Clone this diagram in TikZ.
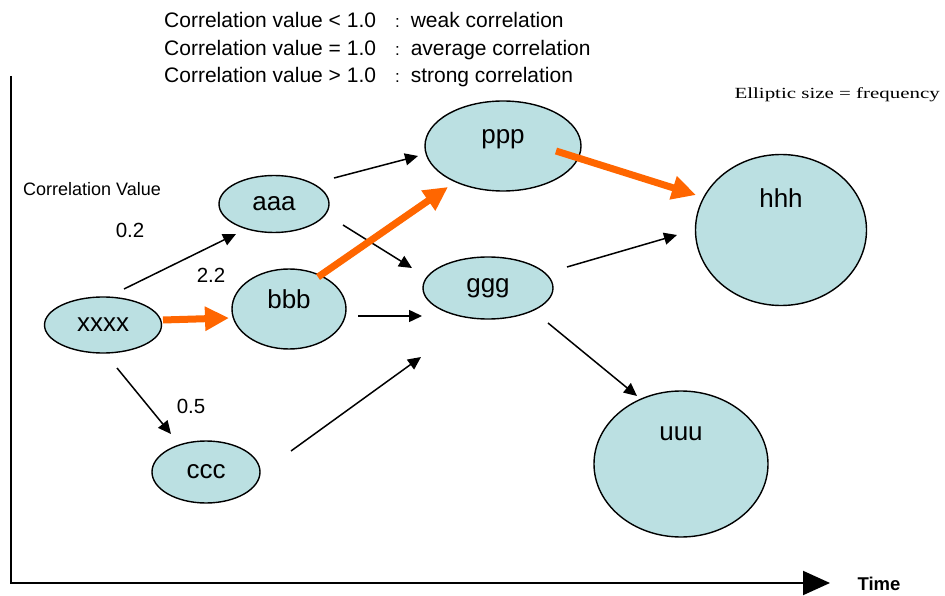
\documentclass[tikz,border=0pt]{standalone}
\usepackage{fontspec}
\setmainfont{Liberation Sans}
\newfontfamily\minchofont[FakeStretch=1.35]{Liberation Serif}
\usetikzlibrary{arrows.meta,shapes.geometric,calc}
\definecolor{blobfill}{RGB}{187,224,226}
\definecolor{hotorange}{RGB}{255,102,0}

\begin{document}
\begin{tikzpicture}[x=1pt,y=-1pt,
  blobtext/.style={font=\fontsize{26}{30}\selectfont},
  blob/.style={ellipse, draw, line width=1.4pt, fill=blobfill, inner sep=0pt, blobtext},
  link/.style={line width=1.5pt, -{Triangle[length=13pt,width=12pt]}},
  hot/.style={line width=7pt, hotorange, -{Triangle[length=24pt,width=23pt]}},
  axis/.style={line width=2pt, line join=miter, -{Triangle[length=27pt,width=24pt]}},
  num/.style={inner sep=0pt, font=\fontsize{20.5}{24}\selectfont}]

\useasboundingbox (0,0) rectangle (945,596);

% axes
\coordinate (ytop) at (11,76);
\coordinate (origin) at (11,583);
\coordinate (xend) at (830,583);
\draw [axis] (ytop) -- (origin) -- (xend);
\node (time) [inner sep=0pt, font=\bfseries\fontsize{18.5}{22}\selectfont] at (879,584) {Time};

% legend
\node (legend) [anchor=west, inner sep=0pt, font=\fontsize{21}{27.7}\selectfont] at (164,49.5)
{\begin{tabular}{@{}l@{\hspace{19pt}}c@{\hspace{11pt}}l@{}}
Correlation value < 1.0 & {\fontsize{17}{20}\selectfont:} & weak correlation\\
Correlation value = 1.0 & {\fontsize{17}{20}\selectfont:} & average correlation\\
Correlation value > 1.0 & {\fontsize{17}{20}\selectfont:} & strong correlation
\end{tabular}};
\node (sizenote) [anchor=east, inner sep=0pt, font=\minchofont\fontsize{15.5}{18}\selectfont] at (940,95) {Elliptic size = frequency};
\node (corrval) [anchor=west, inner sep=0pt, font=\fontsize{18}{22}\selectfont] at (23,189.5) {Correlation Value};

% events
\node (xxxx) [blob, minimum width=117, minimum height=56] at (103,325) {xxxx};
\node (aaa) [blob, minimum width=110, minimum height=57] at (274,204) {aaa};
\node (bbb) [blob, minimum width=114, minimum height=80,
  label={[blobtext, yshift=9.5pt]center:bbb}] at (289,309) {};
\node (ccc) [blob, minimum width=108, minimum height=62] at (206,472) {ccc};
\node (ppp) [blob, minimum width=156, minimum height=90,
  label={[blobtext, yshift=6.5pt]center:ppp}] at (503,146) {};
\node (ggg) [blob, minimum width=130, minimum height=62] at (488,288) {ggg};
\node (hhh) [blob, minimum width=171, minimum height=151,
  label={[blobtext, yshift=31.5pt]center:hhh}] at (781,230) {};
\node (uuu) [blob, minimum width=174, minimum height=146,
  label={[blobtext, yshift=30.5pt]center:uuu}] at (681,464) {};

% weights
\node (w1) [num] at (130,230) {0.2};
\node (w2) [num] at (211,275) {2.2};
\node (w3) [num] at (191,406) {0.5};

% links
\foreach \a/\ax/\ay/\b/\bx/\by in {xxxx/21/-36/aaa/-38/30, xxxx/14/43/ccc/-35/-38,
  ccc/85/-21/ggg/-67/69, aaa/60/-26/ppp/-85/10, aaa/69/21/ggg/-76/-20,
  bbb/69/7/ggg/-66/28, ggg/79/-21/hhh/-104/5, ggg/60/35/uuu/-44/-68}
  \draw [link] ($(\a)+(\ax,\ay)$) -- ($(\b)+(\bx,\by)$);

\foreach \a/\ax/\ay/\b/\bx/\by in {xxxx/60/-5/bbb/-60/9, bbb/29/-32/ppp/-55/41,
  ppp/53/5/hhh/-85/-35}
  \draw [hot] ($(\a)+(\ax,\ay)$) -- ($(\b)+(\bx,\by)$);

\end{tikzpicture}
\end{document}
